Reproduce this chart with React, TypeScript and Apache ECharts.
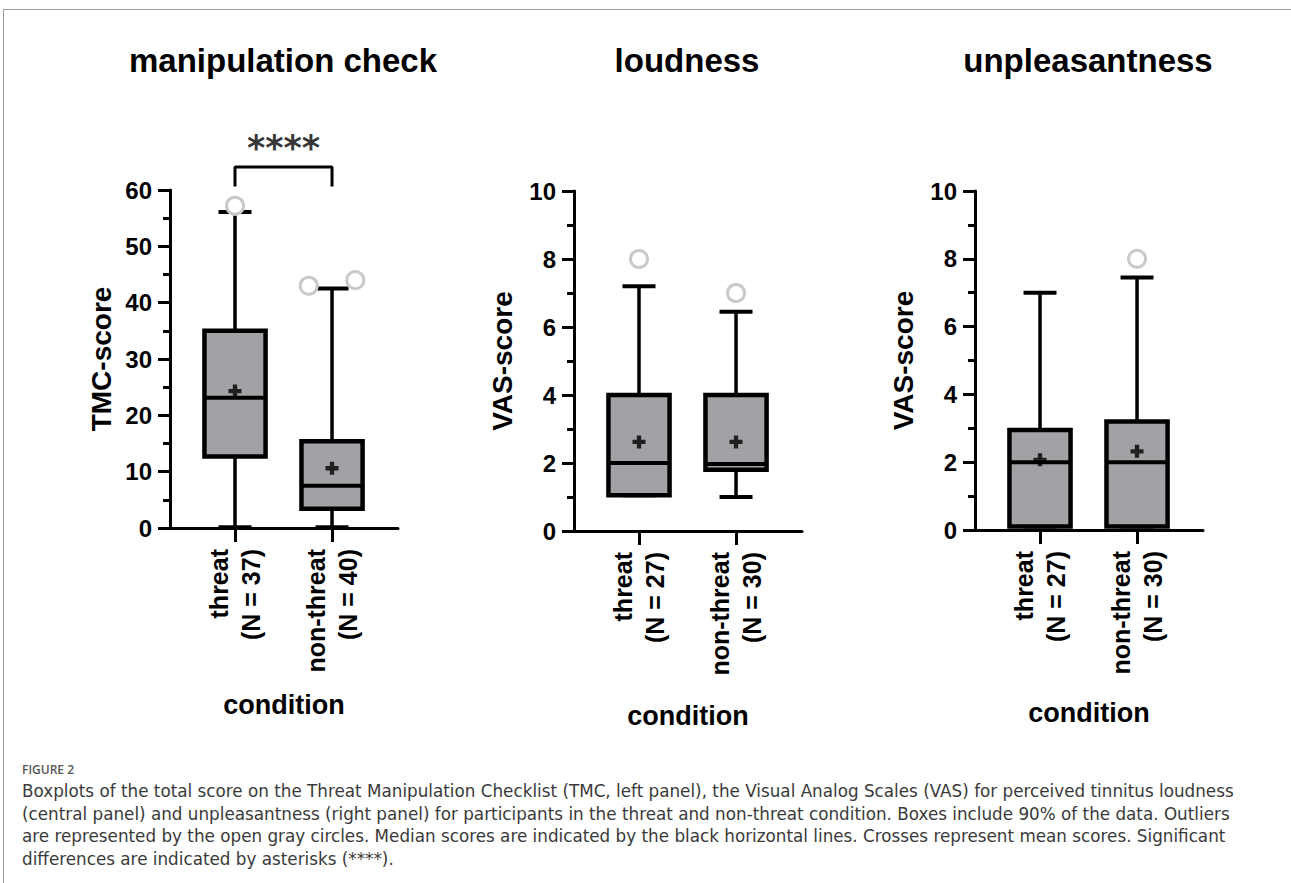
import React, { useEffect, useRef } from 'react';
import * as echarts from 'echarts';

// ---------- data ----------
const panelTitles = ['manipulation check', 'loudness', 'unpleasantness'];
const yAxisNames = ['TMC-score', 'VAS-score', 'VAS-score'];
const xAxisName = 'condition';

const tmcCategories = ['threat\n(N = 37)', 'non-threat\n(N = 40)'];
const loudCategories = ['threat\n(N = 27)', 'non-threat\n(N = 30)'];
const unplCategories = ['threat\n(N = 27)', 'non-threat\n(N = 30)'];

// [lower whisker, Q1, median, Q3, upper whisker]
const tmcBoxes = [
  [0.15, 12.7, 23.1, 35.0, 56.1],
  [0.15, 3.4, 7.5, 15.4, 42.5],
];
const loudBoxes = [
  [1.05, 1.05, 2.0, 4.0, 7.2],
  [1.0, 1.8, 1.97, 4.0, 6.45],
];
const unplBoxes = [
  [0.1, 0.1, 2.0, 2.95, 7.0],
  [0.1, 0.1, 2.0, 3.2, 7.45],
];

const tmcMeans = [24.3, 10.6];
const loudMeans = [2.62, 2.62];
const unplMeans = [2.07, 2.32];

// [category position (1 = threat, 2 = non-threat, with jitter), value]
const tmcOutliers = [[1.0, 57.2], [1.76, 43.0], [2.24, 44.0]];
const loudOutliers = [[1.0, 8.0], [2.0, 7.0]];
const unplOutliers = [[2.0, 8.0]];

const tmcAxis = { max: 60, interval: 10 };
const vasAxis = { max: 10, interval: 2 };

// significance bracket (left panel)
const sigBracket = [[1, 60.6], [1, 64.1], [2, 64.1], [2, 60.6]];
const sigLabel = '****';

const captionHead = 'FIGURE 2';
const captionLines = [
  'Boxplots of the total score on the Threat Manipulation Checklist (TMC, left panel), the Visual Analog Scales (VAS) for perceived tinnitus loudness',
  '(central panel) and unpleasantness (right panel) for participants in the threat and non-threat condition. Boxes include 90% of the data. Outliers',
  'are represented by the open gray circles. Median scores are indicated by the black horizontal lines. Crosses represent mean scores. Significant',
  'differences are indicated by asterisks (****).',
];

// ---------- styling ----------
const FONT = '"Liberation Sans", Arial, Helvetica, sans-serif';
const BOX_W = 0.63;
const CAP_W = 0.34;
const PLUS = 'path://M4,0H8V4H12V8H8V12H4V8H0V4H4Z';

const panels = [
  { cats: tmcCategories, boxes: tmcBoxes, means: tmcMeans, outliers: tmcOutliers, axis: tmcAxis,
    grid: { left: 170, top: 190, width: 228, height: 338 }, nameGapY: 55, nameGapX: 163, titleX: 283 },
  { cats: loudCategories, boxes: loudBoxes, means: loudMeans, outliers: loudOutliers, axis: vasAxis,
    grid: { left: 574, top: 191, width: 228, height: 340 }, nameGapY: 58, nameGapX: 171, titleX: 687 },
  { cats: unplCategories, boxes: unplBoxes, means: unplMeans, outliers: unplOutliers, axis: vasAxis,
    grid: { left: 975, top: 191, width: 228, height: 339 }, nameGapY: 58, nameGapX: 169, titleX: 1088 },
];

function renderBox(params: any, api: any) {
  const x = api.value(0);
  const lo = api.value(1), q1 = api.value(2), med = api.value(3), q3 = api.value(4), hi = api.value(5);
  const pLo = api.coord([x, lo]);
  const pQ1 = api.coord([x, q1]);
  const pMed = api.coord([x, med]);
  const pQ3 = api.coord([x, q3]);
  const pHi = api.coord([x, hi]);
  const halfW = api.size([BOX_W, 0])[0] / 2;
  const capHalf = api.size([CAP_W, 0])[0] / 2;
  const cx = pMed[0];
  const ls = { stroke: '#000', lineWidth: 3.5 };
  return {
    type: 'group',
    children: [
      { type: 'line', shape: { x1: cx, y1: pQ3[1], x2: cx, y2: pHi[1] }, style: ls },
      { type: 'line', shape: { x1: cx, y1: pQ1[1], x2: cx, y2: pLo[1] }, style: ls },
      { type: 'line', shape: { x1: cx - capHalf, y1: pHi[1], x2: cx + capHalf, y2: pHi[1] }, style: { stroke: '#000', lineWidth: 4 } },
      { type: 'line', shape: { x1: cx - capHalf, y1: pLo[1], x2: cx + capHalf, y2: pLo[1] }, style: { stroke: '#000', lineWidth: 4 } },
      {
        type: 'rect',
        shape: { x: cx - halfW, y: pQ3[1], width: halfW * 2, height: pQ1[1] - pQ3[1] },
        style: { fill: '#a2a2a6', stroke: '#000', lineWidth: 4.5 },
      },
      { type: 'line', shape: { x1: cx - halfW, y1: pMed[1], x2: cx + halfW, y2: pMed[1] }, style: { stroke: '#000', lineWidth: 4 } },
    ],
  };
}

export default function App() {
  const ref = useRef<HTMLDivElement>(null);
  useEffect(() => {
    document.body.style.margin = '0';
    if (!ref.current) return;
    const chart = echarts.init(ref.current, undefined, { renderer: 'svg' });

    const grids: any[] = [];
    const xAxes: any[] = [];
    const yAxes: any[] = [];
    const series: any[] = [];

    panels.forEach((p, i) => {
      grids.push({ ...p.grid, containLabel: false, outerBoundsMode: 'none' });
      xAxes.push({
        type: 'value',
        gridIndex: i,
        min: 0.33,
        max: 2.68,
        axisLine: { show: true, onZero: false, lineStyle: { color: '#000', width: 3 } },
        axisTick: { show: true, customValues: [1, 2], length: 14, lineStyle: { color: '#000', width: 3 } },
        axisLabel: {
          show: true,
          customValues: [1, 2],
          formatter: (v: number) => p.cats[Math.round(v) - 1],
          rotate: 90,
          margin: 21,
          color: '#000',
          fontFamily: FONT,
          fontSize: 25,
          fontWeight: 'bold',
          lineHeight: 32,
        },
        splitLine: { show: false },
        name: xAxisName,
        nameLocation: 'middle',
        nameGap: p.nameGapX,
        nameTextStyle: { color: '#000', fontFamily: FONT, fontSize: 27, fontWeight: 'bold' },
      });
      yAxes.push({
        type: 'value',
        gridIndex: i,
        min: 0,
        max: p.axis.max,
        interval: p.axis.interval,
        axisLine: { show: true, lineStyle: { color: '#000', width: 3 } },
        axisTick: { show: true, length: 12, lineStyle: { color: '#000', width: 3 } },
        minorTick: { show: true, splitNumber: 2, length: 7, lineStyle: { color: '#000', width: 3 } },
        axisLabel: { color: '#000', fontFamily: FONT, fontSize: 24, fontWeight: 'bold', margin: 18 },
        splitLine: { show: false },
        minorSplitLine: { show: false },
        name: yAxisNames[i],
        nameLocation: 'middle',
        nameGap: p.nameGapY,
        nameTextStyle: { color: '#000', fontFamily: FONT, fontSize: 28, fontWeight: 'bold' },
      });
      series.push({
        type: 'custom',
        xAxisIndex: i,
        yAxisIndex: i,
        renderItem: renderBox,
        data: p.boxes.map((b, k) => [k + 1, ...b]),
        z: 2,
      });
      series.push({
        type: 'scatter',
        xAxisIndex: i,
        yAxisIndex: i,
        symbol: 'circle',
        symbolSize: 17,
        itemStyle: { color: '#fff', borderColor: '#c9c9c9', borderWidth: 3, opacity: 1 },
        data: p.outliers,
        clip: false,
        z: 3,
      });
      series.push({
        type: 'scatter',
        xAxisIndex: i,
        yAxisIndex: i,
        symbol: PLUS,
        symbolSize: 13,
        itemStyle: { color: '#000' },
        data: p.means.map((m, k) => [k + 1, m]),
        z: 4,
      });
    });

    series.push({
      type: 'line',
      xAxisIndex: 0,
      yAxisIndex: 0,
      data: sigBracket,
      clip: false,
      symbol: 'none',
      lineStyle: { color: '#000', width: 3 },
      z: 5,
    });
    series.push({
      type: 'scatter',
      xAxisIndex: 0,
      yAxisIndex: 0,
      data: [[1.5, 64.1]],
      clip: false,
      symbolSize: 1,
      itemStyle: { color: 'rgba(0,0,0,0)' },
      label: {
        show: true,
        formatter: sigLabel,
        position: 'top',
        distance: 1,
        color: '#000',
        fontFamily: '"DejaVu Sans", sans-serif',
        fontSize: 35,
        fontWeight: 'bold',
      },
      z: 5,
    });

    const graphics: any[] = [
      { type: 'line', shape: { x1: 3, y1: 9.5, x2: 1291, y2: 9.5 }, style: { stroke: '#9c9c9c', lineWidth: 1 } },
      { type: 'line', shape: { x1: 3.5, y1: 9, x2: 3.5, y2: 883 }, style: { stroke: '#9c9c9c', lineWidth: 1 } },
    ];
    panels.forEach((p, i) => {
      graphics.push({
        type: 'text',
        x: p.titleX,
        y: 60,
        style: {
          text: panelTitles[i],
          fill: '#000',
          font: `bold 33px ${FONT}`,
          textAlign: 'center',
          textVerticalAlign: 'middle',
        },
      });
    });
    graphics.push({
      type: 'text',
      x: 22,
      y: 769,
      style: {
        text: captionHead,
        fill: '#555',
        font: `600 12px "Open Sans", sans-serif`,
        textAlign: 'left',
        textVerticalAlign: 'middle',
      },
    });
    captionLines.forEach((line, k) => {
      graphics.push({
        type: 'text',
        x: 22,
        y: 791 + k * 22.6,
        style: {
          text: line,
          fill: '#3a3a3a',
          font: `16.8px "DejaVu Sans", sans-serif`,
          textAlign: 'left',
          textVerticalAlign: 'middle',
        },
      });
    });

    chart.setOption({
      animation: false,
      backgroundColor: '#fff',
      textStyle: { fontFamily: FONT },
      grid: grids,
      xAxis: xAxes,
      yAxis: yAxes,
      series,
      graphic: graphics,
    });
    return () => chart.dispose();
  }, []);
  return <div ref={ref} style={{ width: 1291, height: 883 }} />;
}
